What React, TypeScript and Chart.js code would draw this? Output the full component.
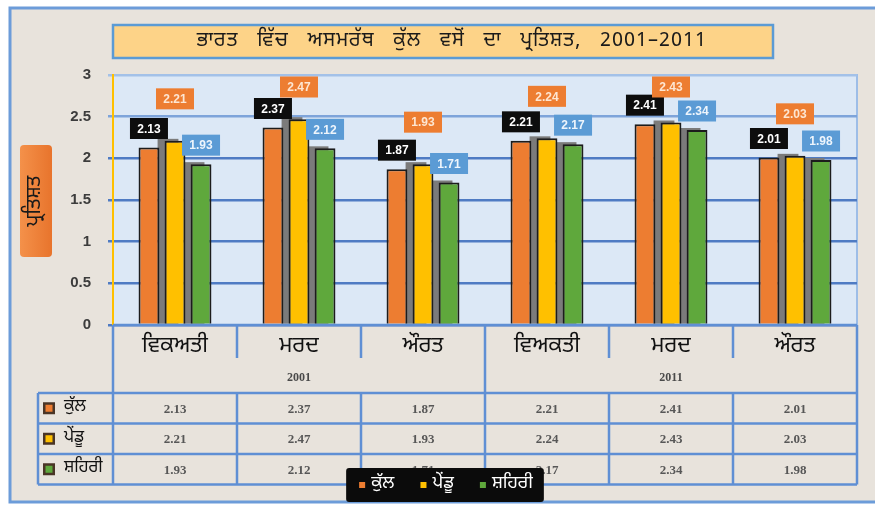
import React, { useEffect, useRef } from "react";
import { Chart, registerables } from "chart.js";

Chart.register(...registerables);

const TITLE = "ਭਾਰਤ   ਵਿੱਚ   ਅਸਮਰੱਥ   ਕੁੱਲ   ਵਸੋਂ   ਦਾ   ਪ੍ਰਤਿਸ਼ਤ,   2001–2011";
const Y_TITLE = "ਪ੍ਰਤਿਸ਼ਤ";
const CATEGORIES = ["ਵਿਕਅਤੀ", "ਮਰਦ", "ਔਰਤ", "ਵਿਅਕਤੀ", "ਮਰਦ", "ਔਰਤ"];
const YEARS = ["2001", "2011"];
const SERIES_NAMES = ["ਕੁੱਲ", "ਪੇਂਡੂ", "ਸ਼ਹਿਰੀ"];
const TOTAL = [2.13, 2.37, 1.87, 2.21, 2.41, 2.01];
const RURAL = [2.21, 2.47, 1.93, 2.24, 2.43, 2.03];
const URBAN = [1.93, 2.12, 1.71, 2.17, 2.34, 1.98];
const Y_TICKS = [0, 0.5, 1, 1.5, 2, 2.5, 3];

const W = 875;
const H = 506;
const BAR_COLORS = ["#ed7d31", "#ffc000", "#5fa83c"];
const LABEL_BG = ["#0d0d0d", "#ed7d31", "#5b9bd5"];
const LABEL_FG = ["#ffffff", "#fde6d2", "#eef5fc"];
const LABEL_OFFSET = [19, 42, 19];
const GUR = "'Noto Sans Gurmukhi', 'Lohit Gurmukhi', 'Noto Sans', sans-serif";
const LINE = "#5f8fd4";

function roundRect(ctx: CanvasRenderingContext2D, x: number, y: number, w: number, h: number, r: number) {
  ctx.beginPath();
  ctx.moveTo(x + r, y);
  ctx.lineTo(x + w - r, y);
  ctx.quadraticCurveTo(x + w, y, x + w, y + r);
  ctx.lineTo(x + w, y + h - r);
  ctx.quadraticCurveTo(x + w, y + h, x + w - r, y + h);
  ctx.lineTo(x + r, y + h);
  ctx.quadraticCurveTo(x, y + h, x, y + h - r);
  ctx.lineTo(x, y + r);
  ctx.quadraticCurveTo(x, y, x + r, y);
  ctx.closePath();
}

const backgroundPlugin = {
  id: "bgFrame",
  beforeDraw(chart: any) {
    const { ctx, chartArea: ca } = chart;
    ctx.save();
    ctx.fillStyle = "#ffffff";
    ctx.fillRect(0, 0, W, H);
    // outer frame
    ctx.fillStyle = "#e8e3dc";
    ctx.fillRect(10, 8, 880, 494);
    ctx.strokeStyle = "#6c9cd9";
    ctx.lineWidth = 3;
    ctx.strokeRect(10, 8, 880, 494);
    // plot background
    ctx.fillStyle = "#dce8f6";
    ctx.fillRect(ca.left, ca.top, ca.right - ca.left, ca.bottom - ca.top);
    ctx.strokeStyle = "#9dbde7";
    ctx.lineWidth = 2;
    ctx.strokeRect(ca.left, ca.top, ca.right - ca.left, ca.bottom - ca.top);
    // title box
    ctx.fillStyle = "#fdd388";
    ctx.fillRect(113, 25, 660, 33);
    ctx.strokeStyle = "#5b9bd5";
    ctx.lineWidth = 2.5;
    ctx.strokeRect(113, 25, 660, 33);
    ctx.fillStyle = "#1a1a1a";
    ctx.font = `20px ${GUR}`;
    ctx.textAlign = "center";
    ctx.textBaseline = "middle";
    try {
      (ctx as any).letterSpacing = "1px";
    } catch (e) {}
    ctx.fillText(TITLE, 452, 42);
    try {
      (ctx as any).letterSpacing = "0px";
    } catch (e) {}
    // y title box
    const g = ctx.createLinearGradient(20, 0, 52, 0);
    g.addColorStop(0, "#f4914a");
    g.addColorStop(1, "#e8742c");
    ctx.fillStyle = g;
    roundRect(ctx, 20, 145, 32, 112, 4);
    ctx.fill();
    ctx.translate(36, 201);
    ctx.rotate(-Math.PI / 2);
    ctx.fillStyle = "#1a1a1a";
    ctx.font = `20px ${GUR}`;
    ctx.fillText(Y_TITLE, 0, 0);
    ctx.restore();
  },
};

const shadowPlugin = {
  id: "barShadow",
  beforeDatasetsDraw(chart: any) {
    const { ctx } = chart;
    ctx.save();
    ctx.fillStyle = "#7b7b7b";
    [1, 2].forEach((d) => {
      const meta = chart.getDatasetMeta(d);
      meta.data.forEach((el: any) => {
        ctx.fillRect(el.x - el.width / 2 - 7, el.y - 2, el.width, el.base - el.y + 2);
      });
    });
    ctx.restore();
  },
};

const labelPlugin = {
  id: "valueLabels",
  afterDatasetsDraw(chart: any) {
    const { ctx, chartArea: ca } = chart;
    ctx.save();
    ctx.font = "bold 12px 'Liberation Sans', sans-serif";
    ctx.textAlign = "center";
    ctx.textBaseline = "middle";
    chart.data.datasets.forEach((ds: any, d: number) => {
      const meta = chart.getDatasetMeta(d);
      meta.data.forEach((el: any, i: number) => {
        const bw = 38;
        const bh = 21;
        let cy = el.y - LABEL_OFFSET[d];
        cy = Math.max(cy, ca.top + 12);
        ctx.fillStyle = LABEL_BG[d];
        ctx.fillRect(el.x - bw / 2, cy - bh / 2, bw, bh);
        ctx.fillStyle = LABEL_FG[d];
        ctx.fillText(Number(ds.data[i]).toFixed(2), el.x, cy + 1);
      });
    });
    ctx.restore();
  },
};

const tablePlugin = {
  id: "dataTable",
  afterDraw(chart: any) {
    const { ctx, chartArea: ca } = chart;
    const xs = chart.scales.x;
    const n = CATEGORIES.length;
    const px = (i: number) => xs.getPixelForValue(i);
    const bottom = ca.bottom;
    const catRowEnd = bottom + 33;
    const dataTop = bottom + 68;
    const rowH = 30.5;
    const tableBottom = dataTop + rowH * 3;
    const tableLeft = 38;
    const perYear = n / YEARS.length;
    ctx.save();
    ctx.strokeStyle = LINE;
    ctx.lineWidth = 2.5;
    const line = (x1: number, y1: number, x2: number, y2: number) => {
      ctx.beginPath();
      ctx.moveTo(x1, y1);
      ctx.lineTo(x2, y2);
      ctx.stroke();
    };
    line(ca.left, bottom, ca.right, bottom);
    line(ca.left, bottom, ca.left, tableBottom);
    line(ca.right, bottom, ca.right, tableBottom);
    for (let i = 0; i < n - 1; i++) {
      const sx = (px(i) + px(i + 1)) / 2;
      if ((i + 1) % perYear === 0) {
        line(sx, bottom, sx, tableBottom);
      } else {
        line(sx, bottom, sx, catRowEnd);
        line(sx, dataTop, sx, tableBottom);
      }
    }
    for (let r = 0; r <= 3; r++) {
      line(tableLeft, dataTop + rowH * r, ca.right, dataTop + rowH * r);
    }
    line(tableLeft, dataTop, tableLeft, tableBottom);

    // year labels
    ctx.textAlign = "center";
    ctx.textBaseline = "middle";
    ctx.font = "bold 12px 'Liberation Serif', serif";
    ctx.fillStyle = "#4a4a4a";
    YEARS.forEach((yr, k) => {
      const cx = (px(k * perYear) + px(k * perYear + perYear - 1)) / 2;
      ctx.fillText(yr, cx, bottom + 53);
    });

    // values
    ctx.font = "bold 13px 'Liberation Serif', serif";
    ctx.fillStyle = "#575757";
    chart.data.datasets.forEach((ds: any, s: number) => {
      ds.data.forEach((v: number, i: number) => {
        ctx.fillText(Number(v).toFixed(2), px(i), dataTop + rowH * (s + 0.5) + 1);
      });
    });

    // row keys
    SERIES_NAMES.forEach((name, s) => {
      const cy = dataTop + rowH * (s + 0.5);
      ctx.fillStyle = "#4a3526";
      ctx.fillRect(43, cy - 6, 12, 12);
      ctx.fillStyle = BAR_COLORS[s];
      ctx.fillRect(45.5, cy - 3.5, 7, 7);
      ctx.fillStyle = "#111111";
      ctx.font = `17px ${GUR}`;
      ctx.textAlign = "left";
      ctx.fillText(name, 64, cy);
    });

    // bottom legend
    ctx.font = `18px ${GUR}`;
    const widths = SERIES_NAMES.map((s) => ctx.measureText(s).width);
    const itemW = widths.map((w) => 12 + w);
    const gap = 26;
    const total = itemW.reduce((a, b) => a + b, 0) + gap * (SERIES_NAMES.length - 1) + 24;
    const bx = 445 - total / 2;
    const by = 468;
    ctx.fillStyle = "#0b0b0b";
    roundRect(ctx, bx, by, total, 34, 3);
    ctx.fill();
    let cur = bx + 13;
    SERIES_NAMES.forEach((name, s) => {
      ctx.fillStyle = BAR_COLORS[s];
      ctx.fillRect(cur, by + 14, 6, 6);
      ctx.fillStyle = "#ffffff";
      ctx.textAlign = "left";
      ctx.fillText(name, cur + 12, by + 17);
      cur += itemW[s] + gap;
    });
    ctx.restore();
  },
};

export default function App() {
  const ref = useRef<HTMLCanvasElement | null>(null);
  useEffect(() => {
    if (!ref.current) return;
    const chart = new Chart(ref.current, {
      type: "bar",
      data: {
        labels: CATEGORIES,
        datasets: [TOTAL, RURAL, URBAN].map((d, k) => ({
          label: SERIES_NAMES[k],
          data: d,
          backgroundColor: BAR_COLORS[k],
          borderColor: "#1c1c1c",
          borderWidth: 2,
          borderSkipped: "bottom",
          barPercentage: 0.8,
          categoryPercentage: 0.63,
        })),
      },
      options: {
        responsive: false,
        animation: false,
        layout: { padding: { left: 0, right: 18, top: 75, bottom: 141 } },
        plugins: {
          legend: { display: false },
          tooltip: { enabled: false },
          title: { display: false },
        },
        scales: {
          x: {
            grid: { display: false, drawTicks: false },
            border: { display: false },
            ticks: {
              color: "#111111",
              font: { family: GUR, size: 22 },
              padding: 10,
              maxRotation: 0,
              autoSkip: false,
            },
            afterFit: (s: any) => {
              s.height = 40;
            },
          },
          y: {
            min: 0,
            max: 3,
            afterBuildTicks: (s: any) => {
              s.ticks = Y_TICKS.map((v) => ({ value: v }));
            },
            ticks: {
              color: "#3c3c3c",
              font: { family: "'Liberation Sans', sans-serif", size: 15, weight: "bold" },
              padding: 17,
              callback: (v: any) => String(v),
            },
            grid: {
              color: (c: any) => (c.tick && c.tick.value === 3 ? "#a3c1e8" : c.tick && c.tick.value === 2.5 ? "#7ea4da" : "#4f7bc3"),
              lineWidth: 2.5,
              tickLength: 5,
            },
            border: { color: "#ffc000", width: 2 },
            afterFit: (s: any) => {
              s.width = 113;
            },
          },
        },
      },
      plugins: [backgroundPlugin, shadowPlugin, labelPlugin, tablePlugin],
    } as any);
    return () => chart.destroy();
  }, []);
  return (
    <div style={{ position: "fixed", left: 0, top: 0, width: W, height: H }}>
      <canvas ref={ref} width={W} height={H} style={{ display: "block" }} />
    </div>
  );
}
